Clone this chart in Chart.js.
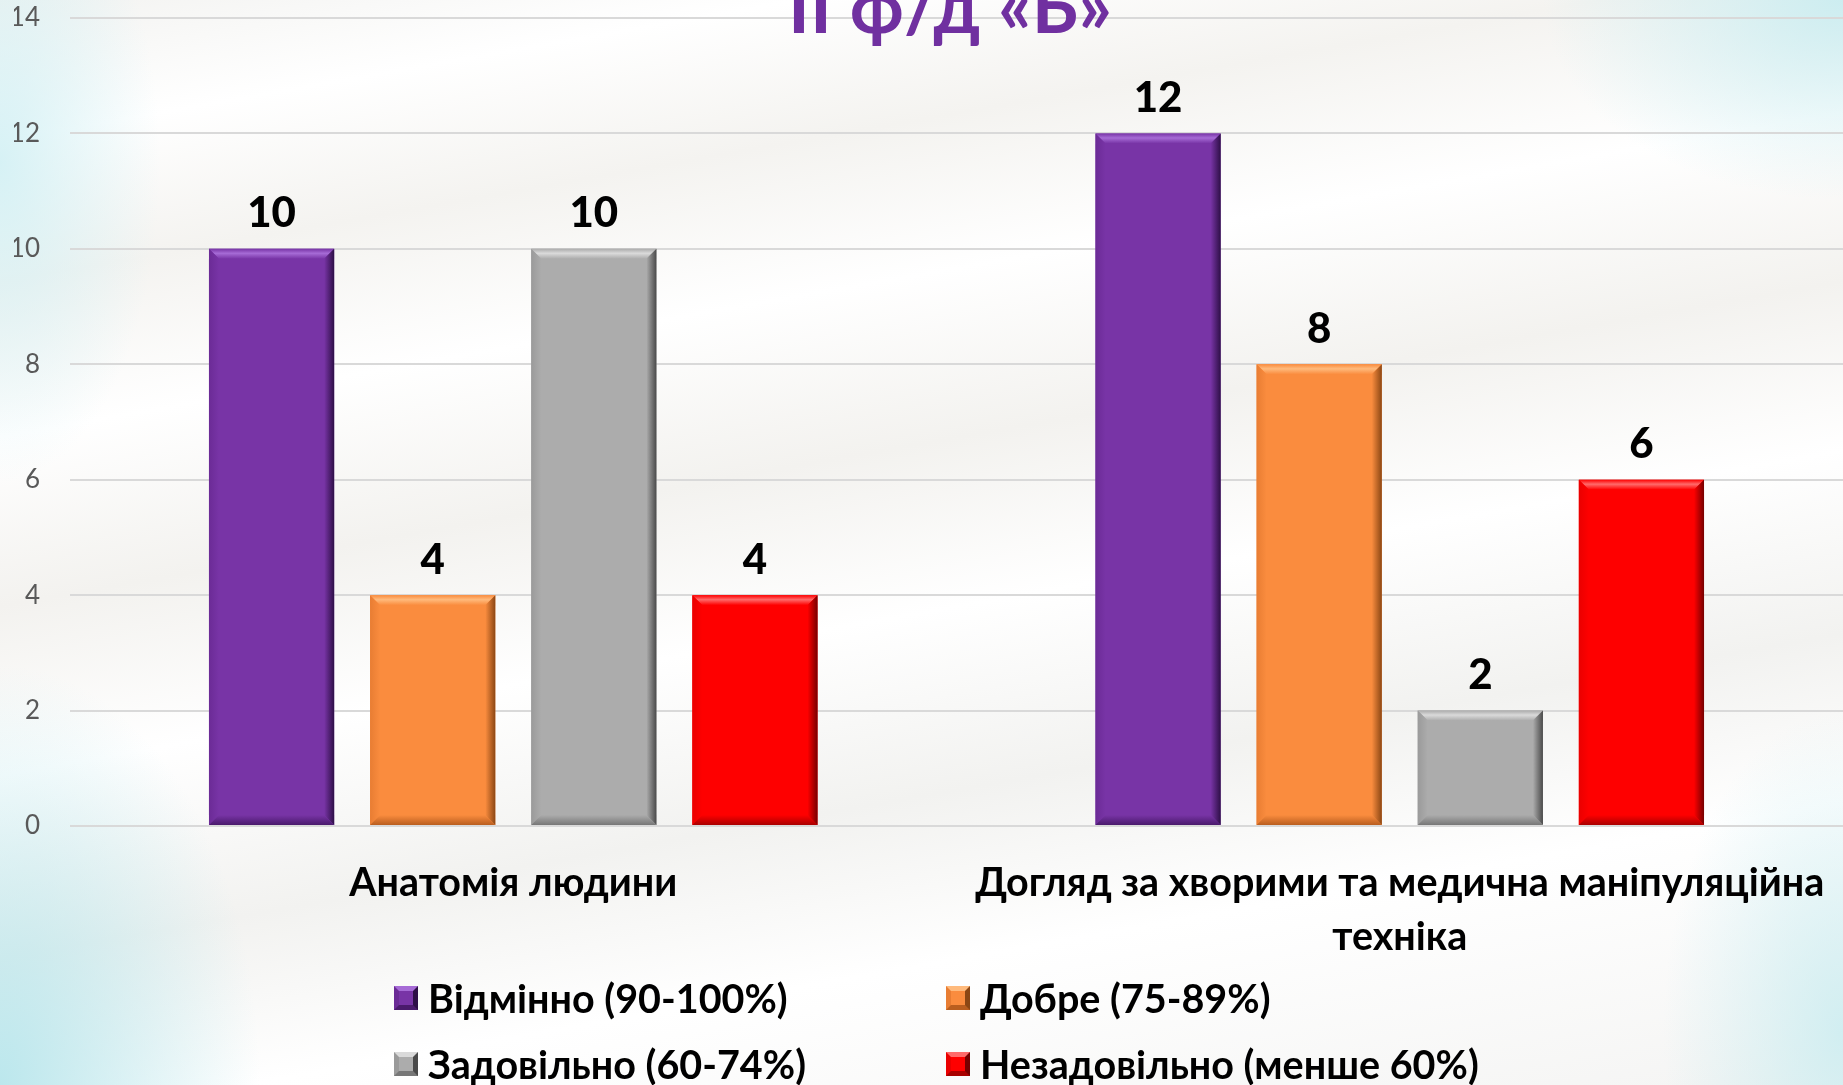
<!DOCTYPE html>
<html lang="uk">
<head>
<meta charset="utf-8">
<title>II ф/д «Б»</title>
<script src="https://cdn.jsdelivr.net/npm/chart.js@4.4.1/dist/chart.umd.min.js"></script>
<style>
  html, body {
    margin: 0;
    padding: 0;
    width: 1843px;
    height: 1085px;
    overflow: hidden;
  }
  body {
    position: relative;
    font-family: Lato, "Open Sans", sans-serif;
    background:
      radial-gradient(ellipse 260px 420px at 0% 100%, rgba(184,230,236,0.95), rgba(184,230,236,0) 100%),
      radial-gradient(ellipse 160px 320px at 0% 15%, rgba(210,240,244,0.9), rgba(210,240,244,0) 100%),
      radial-gradient(ellipse 300px 200px at 100% 0%, rgba(200,236,240,0.9), rgba(200,236,240,0) 100%),
      radial-gradient(ellipse 180px 320px at 100% 95%, rgba(200,236,240,0.8), rgba(200,236,240,0) 100%),
      linear-gradient(170deg, #f3f3f1 0%, #ffffff 10%, #f4f3f0 20%, #ffffff 31%, #f3f2ef 43%, #ffffff 55%, #f2f2f0 68%, #ffffff 80%, #f4f4f3 100%);
  }
  #wrap {
    position: absolute;
    left: 0;
    top: 0;
    width: 1843px;
    height: 1085px;
  }
  #title {
    position: absolute;
    left: 950px;
    top: -32px;
    transform: translateX(-50%);
    font-weight: 700;
    font-size: 74px;
    line-height: 1;
    color: #7030a0;
    white-space: nowrap;
  }
  #legend {
    position: absolute;
    left: 394px;
    top: 976px;
    display: grid;
    grid-template-columns: 552px auto;
    row-gap: 22px;
  }
  .item {
    display: flex;
    align-items: center;
    font-weight: 700;
    font-size: 39.5px;
    line-height: 44px;
    color: #000;
    white-space: nowrap;
  }
  .mark {
    width: 14px;
    height: 14px;
    border-style: solid;
    border-width: 5px;
    margin-right: 10px;
  }
</style>
</head>
<body>
<div id="wrap"><canvas id="chart" width="1843" height="1085"></canvas></div>
<div id="title">II ф/д «Б»</div>
<div id="legend"></div>
<script>
  const subjects = [
    "Анатомія людини",
    ["Догляд за хворими та медична маніпуляційна", "техніка"]
  ];
  const gradeNames = [
    "Відмінно (90-100%)",
    "Добре (75-89%)",
    "Задовільно (60-74%)",
    "Незадовільно (менше 60%)"
  ];
  const excellent = [10, 12];
  const good = [4, 8];
  const satisfactory = [10, 2];
  const unsatisfactory = [4, 6];
  const yTicks = [0, 2, 4, 6, 8, 10, 12, 14];

  // face, top highlight, left edge, right edge, bottom edge
  const shades = [
    { face: "#7834a6", top: "#a66bd6", left: "#6b2b96", right: "#2e0f47", bottom: "#4a1a6c" },
    { face: "#fa8c3e", top: "#ffba7c", left: "#e87d33", right: "#8c4714", bottom: "#b95e1f" },
    { face: "#acacac", top: "#dadada", left: "#9a9a9a", right: "#4a4a4a", bottom: "#777777" },
    { face: "#fe0000", top: "#ff6a6a", left: "#ea0000", right: "#760000", bottom: "#a90000" }
  ];
  const seriesValues = [excellent, good, satisfactory, unsatisfactory];

  // bevelled bar edges, like the old office 3D look
  const bevelBars = {
    id: "bevelBars",
    afterDatasetsDraw(chart) {
      const ctx = chart.ctx;
      const e = 10;
      chart.data.datasets.forEach((ds, i) => {
        const meta = chart.getDatasetMeta(i);
        const s = shades[i];
        meta.data.forEach(bar => {
          const p = bar.getProps(["x", "y", "base", "width"], true);
          const l = p.x - p.width / 2, r = p.x + p.width / 2, t = p.y, b = p.base;
          const k = Math.min(e, (b - t) / 2);
          const poly = (pts, fill) => {
            ctx.beginPath();
            ctx.moveTo(pts[0][0], pts[0][1]);
            pts.slice(1).forEach(q => ctx.lineTo(q[0], q[1]));
            ctx.closePath();
            ctx.fillStyle = fill;
            ctx.fill();
          };
          ctx.save();
          let g = ctx.createLinearGradient(0, t, 0, t + k);
          g.addColorStop(0, s.face);
          g.addColorStop(0.45, s.top);
          g.addColorStop(1, s.face);
          poly([[l, t], [r, t], [r - k, t + k], [l + k, t + k]], g);
          g = ctx.createLinearGradient(l, 0, l + k, 0);
          g.addColorStop(0, s.left);
          g.addColorStop(1, s.face);
          poly([[l, t], [l + k, t + k], [l + k, b - k], [l, b]], g);
          g = ctx.createLinearGradient(r - k, 0, r, 0);
          g.addColorStop(0, s.face);
          g.addColorStop(1, s.right);
          poly([[r, t], [r, b], [r - k, b - k], [r - k, t + k]], g);
          g = ctx.createLinearGradient(0, b - k, 0, b);
          g.addColorStop(0, s.face);
          g.addColorStop(1, s.bottom);
          poly([[l, b], [l + k, b - k], [r - k, b - k], [r, b]], g);
          ctx.restore();
        });
      });
    }
  };

  // value written above each bar
  const barValues = {
    id: "barValues",
    afterDatasetsDraw(chart) {
      const ctx = chart.ctx;
      ctx.save();
      ctx.font = "900 42px Lato, 'Open Sans', sans-serif";
      ctx.fillStyle = "#000";
      ctx.textAlign = "center";
      ctx.textBaseline = "middle";
      chart.data.datasets.forEach((ds, i) => {
        chart.getDatasetMeta(i).data.forEach((bar, j) => {
          ctx.fillText(String(ds.data[j]), bar.x, bar.y - 35);
        });
      });
      ctx.restore();
    }
  };

  const canvas = document.getElementById("chart");

  new Chart(canvas.getContext("2d"), {
    type: "bar",
    data: {
      labels: subjects,
      datasets: gradeNames.map((name, i) => ({
        label: name,
        data: seriesValues[i],
        backgroundColor: shades[i].face,
        borderWidth: 0,
        categoryPercentage: 0.727,
        barPercentage: 0.777
      }))
    },
    options: {
      responsive: false,
      animation: false,
      layout: { padding: { top: 0, left: 14, right: 0, bottom: 125 } },
      plugins: {
        legend: { display: false },
        tooltip: { enabled: false }
      },
      scales: {
        x: {
          grid: { display: false },
          border: { display: false },
          afterFit(scale) {
            scale.height = 134;
            scale.paddingLeft = 0;
            scale.paddingRight = 0;
          },
          ticks: {
            color: "#000",
            padding: 23,
            maxRotation: 0,
            font: { family: "Lato, 'Open Sans', sans-serif", size: 39.5, weight: "700", lineHeight: 1.35 }
          }
        },
        y: {
          min: 0,
          max: 14,
          afterBuildTicks(scale) {
            scale.ticks = yTicks.map(v => ({ value: v }));
          },
          afterFit(scale) {
            scale.width = 56;
            scale.paddingTop = 18;
            scale.paddingBottom = 0;
          },
          grid: { color: "#d9d9d9", lineWidth: 2, drawTicks: false },
          border: { display: false },
          ticks: {
            color: "#595959",
            padding: 30,
            font: { family: "Lato, 'Open Sans', sans-serif", size: 26 }
          }
        }
      }
    },
    plugins: [bevelBars, barValues]
  });

  // legend laid out in two columns
  const legend = document.getElementById("legend");
  gradeNames.forEach((name, i) => {
    const s = shades[i];
    const item = document.createElement("div");
    item.className = "item";
    const mark = document.createElement("span");
    mark.className = "mark";
    mark.style.background = s.face;
    mark.style.borderColor = s.top + " " + s.right + " " + s.bottom + " " + s.left;
    item.appendChild(mark);
    item.appendChild(document.createTextNode(name));
    legend.appendChild(item);
  });
</script>
</body>
</html>
